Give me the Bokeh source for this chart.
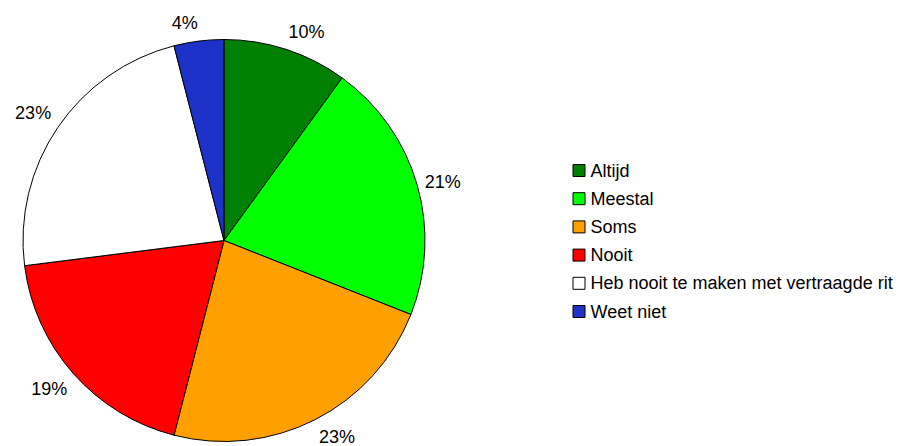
import math
from bokeh.plotting import figure
from bokeh.models import Range1d, ColumnDataSource
from bokeh.core.properties import value
from bokeh.embed import file_html
from bokeh.resources import INLINE

categories = ["Altijd", "Meestal", "Soms", "Nooit", "Heb nooit te maken met vertraagde rit", "Weet niet"]
percentages = [10, 21, 23, 19, 23, 4]
colors = ["#008000", "#00FF00", "#FFA000", "#FF0000", "#FFFFFF", "#1E32C8"]

W, H = 900, 446
# data coords: x = image x, y = 446 - image y
p = figure(width=W, height=H, output_backend="svg", toolbar_location=None,
           x_range=Range1d(0, W), y_range=Range1d(0, H),
           min_border=0, outline_line_color=None)
p.axis.visible = False
p.grid.visible = False
p.background_fill_color = "white"
p.border_fill_color = "white"

cx, cy, R = 223.5, 446 - 240, 201
total = sum(percentages)
starts, ends, lx, ly, la, lb, labels = [], [], [], [], [], [], []
cum = 0.0
for v in percentages:
    a0 = math.pi / 2 - 2 * math.pi * cum / total
    cum += v
    a1 = math.pi / 2 - 2 * math.pi * cum / total
    starts.append(a0)
    ends.append(a1)
    mid = (a0 + a1) / 2
    rr = 209
    lx.append(cx + rr * math.cos(mid))
    ly.append(cy + rr * math.sin(mid))
    la.append("left" if math.cos(mid) > 0 else "right")
    s = math.sin(mid)
    lb.append("middle" if abs(s) < 0.3 else ("bottom" if s > 0 else "top"))
    labels.append(f"{v}%")

src = ColumnDataSource(dict(start=starts, end=ends, color=colors))
p.wedge(x=cx, y=cy, radius=R, start_angle="start", end_angle="end", direction="clock",
        fill_color="color", line_color="black", line_width=1, source=src)

lsrc = ColumnDataSource(dict(x=lx, y=ly, t=labels, a=la, b=lb))
p.text(x="x", y="y", text="t", text_align="a", text_baseline="b", source=lsrc,
       text_font=value("Liberation Sans"), text_font_size="18px", text_color="black")

# legend
leg_y = [446 - (170 + i * 28.2) for i in range(len(categories))]
p.rect(x=[578.5] * len(categories), y=leg_y, width=12, height=12,
       fill_color=colors, line_color="black", line_width=1)
p.text(x=[590] * len(categories), y=leg_y, text=categories, text_align="left",
       text_baseline="middle", text_font=value("Liberation Sans"),
       text_font_size="18px", text_color="black")

open("out.html", "w").write(file_html(p, INLINE))
